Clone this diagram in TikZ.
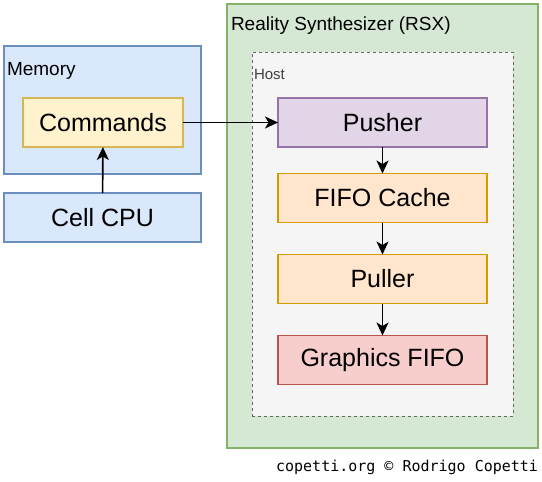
\documentclass[tikz,border=0pt]{standalone}
\usepackage{fontspec}
\setmainfont{Liberation Sans}
\setmonofont{DejaVu Sans Mono}
\usetikzlibrary{positioning, arrows.meta}
\definecolor{memfill}{HTML}{DAE8FC}
\definecolor{memline}{HTML}{6C8EBF}
\definecolor{cmdfill}{HTML}{FFF2CC}
\definecolor{cmdline}{HTML}{D6B656}
\definecolor{rsxfill}{HTML}{D5E8D4}
\definecolor{rsxline}{HTML}{82B366}
\definecolor{hostfill}{HTML}{F5F5F5}
\definecolor{hostline}{HTML}{666666}
\definecolor{pushfill}{HTML}{E1D5E7}
\definecolor{pushline}{HTML}{9673A6}
\definecolor{fifofill}{HTML}{FFE6CC}
\definecolor{fifoline}{HTML}{D79B00}
\definecolor{gfxfill}{HTML}{F8CECC}
\definecolor{gfxline}{HTML}{B85450}
\tikzset{every node/.style={inner sep=0pt, outer sep=0pt},
         group/.style={draw, line width=1.2pt, minimum width=#1},
         unit/.style={draw, line width=1.2pt, minimum height=49pt, font=\fontsize{25}{30}\selectfont},
         grouptitle/.style={anchor=west, font=\fontsize{19}{23}\selectfont},
         >={Stealth[length=13pt, width=12pt, inset=3.5pt]},
        }

\begin{document}
\begin{tikzpicture}[x=1pt, y=-1pt]
        \useasboundingbox (0,0) rectangle (542,482);

        % left side
        \node[group=197pt, minimum height=128pt, fill=memfill, draw=memline](mem)at(102.5,110){};
        \node[grouptitle](memlbl)at(7,71){Memory};
        \node[unit, minimum width=160pt, fill=cmdfill, draw=cmdline](cmds)at(103,122.5){Commands};
        \node[unit, minimum width=197pt, fill=memfill, draw=memline](cpu)at(102.5,217.5){Cell CPU};

        % RSX
        \node[group=311pt, minimum height=444pt, fill=rsxfill, draw=rsxline](rsx)at(382.5,226){};
        \node[grouptitle](rsxlbl)at(231,26){Reality Synthesizer (RSX)};
        \node[group=261pt, minimum height=364pt, fill=hostfill, draw=hostline, dashed, line width=1pt](host)at(382.5,234){};
        \node[anchor=west, font=\fontsize{15}{18}\selectfont, text=black!75](hostlbl)at(254,74){Host};

        \node[unit, minimum width=209pt, fill=pushfill, draw=pushline](push)at(382.5,122.5){Pusher};
        \node[unit, minimum width=209pt, fill=fifofill, draw=fifoline](cache)at(382.5,198){FIFO Cache};
        \node[unit, minimum width=209pt, fill=fifofill, draw=fifoline](pull)at(382.5,279){Puller};
        \node[unit, minimum width=209pt, fill=gfxfill, draw=gfxline](gfx)at(382.5,360){Graphics FIFO};

        \draw[->, line width=1.6pt](cpu)--(cmds);
        \draw[->, line width=1.6pt](cmds)--(push);
        \draw[->, line width=1.6pt](push)--(cache);
        \draw[->, line width=1.6pt](cache)--(pull);
        \draw[->, line width=1.6pt](pull)--(gfx);

        \node[anchor=east, font=\ttfamily\fontsize{15}{18}\selectfont](credit)at(538,467){copetti.org © Rodrigo Copetti};
    \end{tikzpicture}
\end{document}
